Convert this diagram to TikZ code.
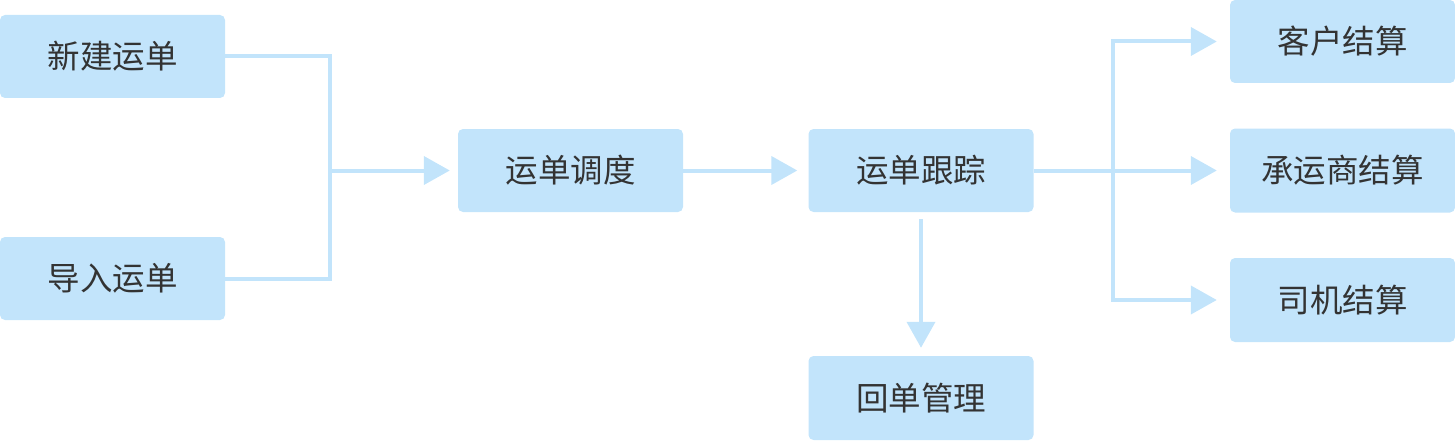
\documentclass[tikz,border=0pt]{standalone}
\usepackage{fontspec}
\setmainfont{Noto Sans CJK SC}
\usetikzlibrary{arrows.meta}
\definecolor{boxfill}{HTML}{C2E4FB}
\definecolor{linecol}{HTML}{C2E4FB}
\definecolor{txt}{HTML}{333333}
\tikzset{
  stepbox/.style={fill=boxfill, draw=none, rounded corners=5pt, inner sep=0pt,
    minimum width=225pt, minimum height=83pt, text=txt,
    font=\fontsize{32.5}{38}\selectfont},
  conn/.style={draw=linecol, line width=4pt},
  arr/.style={conn, -{Triangle[length=26pt, width=28pt]}},
}
\begin{document}
\begin{tikzpicture}[x=1pt, y=-1pt]
\useasboundingbox (0,0) rectangle (1455,441);
\node[stepbox] (a) at (112.5,56.5) {新建运单};
\node[stepbox] (b) at (112.5,278.5) {导入运单};
\node[stepbox] (c) at (570.5,170.5) {运单调度};
\node[stepbox] (d) at (921,170.5) {运单跟踪};
\node[stepbox, minimum height=84pt] (e) at (921,398) {回单管理};
\node[stepbox] (f) at (1342.5,41.5) {客户结算};
\node[stepbox, minimum height=84pt] (g) at (1342.5,170.5) {承运商结算};
\node[stepbox, minimum height=84pt] (h) at (1342.5,300) {司机结算};
\coordinate (j1) at (330,170.5);
\coordinate (j2) at (1113,170.5);
\draw[conn] (a.east) -| (j1);
\draw[conn] (b.east) -| (j1);
\draw[arr, shorten >=8pt] (j1) -- (c.west);
\draw[arr, shorten >=11pt] (c.east) -- (d.west);
\draw[arr, shorten >=13pt] (d.east) -- (g.west);
\draw[arr, shorten >=13pt] (j2) |- (f.west);
\draw[arr, shorten >=13pt] (j2) |- (h.west);
\draw[arr, shorten >=8pt, shorten <=7pt] (d.south) -- (e.north);
\end{tikzpicture}
\end{document}
